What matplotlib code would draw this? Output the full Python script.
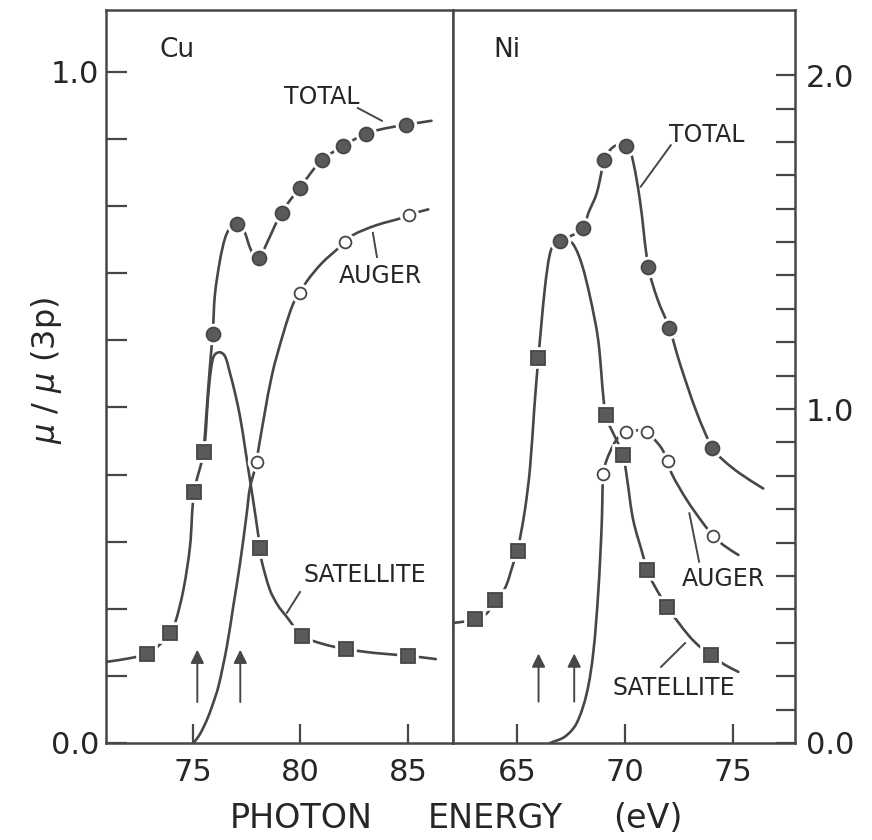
import numpy as np
import matplotlib
matplotlib.use("Agg")
import matplotlib.pyplot as plt
from matplotlib.ticker import FixedLocator
from matplotlib.path import Path
from matplotlib.patches import PathPatch

# ---------------- Cu (left panel, left axis: mu/mu(3p)) ----------------
cu_total_x = [75.92, 77.03, 78.08, 79.12, 79.97, 81.0, 82.0, 83.03, 84.92]
cu_total_y = [0.610, 0.773, 0.723, 0.790, 0.827, 0.869, 0.890, 0.908, 0.921]
cu_total_curve_x = [75.5, 75.7, 75.85, 75.92, 76.02, 76.26, 76.49, 76.7,
                    77.03, 77.25, 77.42, 77.65, 77.85, 78.08, 78.4, 78.8, 79.12,
                    79.55, 79.97, 80.5, 81.0, 81.5, 82.0, 82.5, 83.03, 84.0,
                    84.92, 85.5, 86.1]
cu_total_curve_y = [0.434, 0.525, 0.585, 0.610, 0.668, 0.720, 0.752, 0.766,
                    0.773, 0.771, 0.760, 0.738, 0.726, 0.723, 0.742, 0.770, 0.790,
                    0.810, 0.827, 0.850, 0.869, 0.880, 0.890, 0.899, 0.908, 0.916,
                    0.921, 0.924, 0.927]

cu_sat_x = [72.88, 73.93, 75.05, 75.5, 78.12, 80.07, 82.1, 85.0]
cu_sat_y = [0.133, 0.164, 0.374, 0.434, 0.290, 0.160, 0.140, 0.130]
cu_sat_curve_x = [71.0, 72.0, 72.88, 73.4, 73.93, 74.16, 74.55, 74.86, 75.05,
                  75.5, 75.7, 75.85, 76.0, 76.26, 76.49, 76.72, 76.95, 77.19,
                  77.42, 77.65, 77.9, 78.12, 78.19, 78.58, 78.95, 79.36, 80.07,
                  81.0, 82.1, 83.5, 85.0, 86.3]
cu_sat_curve_y = [0.121, 0.126, 0.133, 0.145, 0.164, 0.178, 0.228, 0.293, 0.374,
                  0.434, 0.515, 0.560, 0.578, 0.582, 0.576, 0.551, 0.522, 0.486,
                  0.440, 0.392, 0.340, 0.290, 0.272, 0.228, 0.205, 0.188, 0.160,
                  0.148, 0.140, 0.134, 0.130, 0.125]

cu_aug_x = [77.96, 80.0, 82.07, 85.05]
cu_aug_y = [0.418, 0.671, 0.746, 0.787]
cu_aug_curve_x = [75.02, 75.3, 75.64, 75.9, 76.18, 76.57, 76.87, 77.19, 77.5, 77.65,
                  77.96, 78.04, 78.66, 79.2, 79.67, 80.0, 80.3, 81.0, 81.76, 82.07,
                  82.46, 83.5, 84.8, 85.05, 85.95]
cu_aug_curve_y = [0.000, 0.012, 0.034, 0.056, 0.084, 0.143, 0.203, 0.268, 0.342, 0.380,
                  0.418, 0.437, 0.546, 0.610, 0.655, 0.671, 0.688, 0.715, 0.737, 0.746,
                  0.757, 0.771, 0.783, 0.787, 0.795]

cu_edges = [75.2, 77.2]          # 3p3/2 and 3p1/2 thresholds (arrows)

# ---------------- Ni (right panel, right axis) ----------------
ni_total_x = [67.0, 68.05, 69.05, 70.07, 71.08, 72.05, 74.05]
ni_total_y = [1.503, 1.541, 1.746, 1.788, 1.426, 1.243, 0.884]
ni_total_curve_x = [67.0, 68.05, 68.3, 68.69, 69.05, 69.3, 69.62, 70.07, 70.31,
                    70.69, 71.08, 71.5, 72.05, 72.55, 73.32, 74.06, 74.55, 75.32,
                    76.4]
ni_total_curve_y = [1.503, 1.541, 1.586, 1.646, 1.746, 1.775, 1.790, 1.788, 1.760,
                    1.626, 1.426, 1.330, 1.243, 1.135, 0.990, 0.882, 0.847, 0.807,
                    0.762]

ni_sat_x = [63.06, 63.98, 65.03, 65.99, 69.1, 69.92, 71.0, 71.96, 73.97]
ni_sat_y = [0.371, 0.428, 0.576, 1.152, 0.982, 0.862, 0.518, 0.406, 0.263]
ni_sat_curve_x = [62.1, 62.6, 63.06, 63.6, 63.98, 64.44, 64.83, 65.03, 65.14, 65.37,
                  65.6, 65.8, 65.99, 66.3, 66.53, 66.75, 67.0, 67.3, 67.61, 67.99,
                  68.38, 68.76, 69.1, 69.4, 69.7, 69.92, 70.1, 70.38, 70.85,
                  71.0, 71.39, 71.96, 72.39, 73.0, 73.47, 73.97, 74.6, 75.25]
ni_sat_curve_y = [0.360, 0.364, 0.371, 0.388, 0.428, 0.463, 0.537, 0.576, 0.613, 0.698,
                  0.820, 1.000, 1.152, 1.366, 1.466, 1.497, 1.503, 1.506, 1.493, 1.436,
                  1.337, 1.207, 0.982, 0.935, 0.895, 0.862, 0.790, 0.668, 0.558,
                  0.518, 0.468, 0.406, 0.368, 0.318, 0.288, 0.263, 0.235, 0.213]

ni_aug_x = [69.0, 70.07, 71.0, 71.98, 74.09]
ni_aug_y = [0.807, 0.932, 0.932, 0.844, 0.620]
ni_aug_curve_x = [66.53, 67.22, 67.76, 68.23, 68.53, 68.76, 68.92, 69.0, 69.15, 69.46,
                  69.75, 70.07, 70.5, 71.0, 71.39, 71.7, 71.98, 72.16, 72.86, 73.63,
                  74.09, 74.55, 75.25]
ni_aug_curve_y = [0.000, 0.019, 0.059, 0.149, 0.269, 0.448, 0.648, 0.807, 0.847, 0.892,
                  0.920, 0.932, 0.936, 0.932, 0.907, 0.882, 0.844, 0.807, 0.728, 0.657,
                  0.620, 0.593, 0.563]

ni_edges = [66.0, 67.65]

INK = "#474747"
FILL = "#5a5a5a"
TXT = "#262626"
plt.rcParams["font.family"] = ["DejaVu Sans"]

fig = plt.figure(figsize=(8.72, 8.4), dpi=100)
W, H = 872.0, 840.0
ax_cu = fig.add_axes([106 / W, 97 / H, 347 / W, 733 / H])
ax_ni = fig.add_axes([453 / W, 97 / H, 342 / W, 733 / H])

ax_cu.set_xlim(70.95, 87.1)
ax_cu.set_ylim(0, 1.092)
ax_ni.set_xlim(62.04, 77.87)
ax_ni.set_ylim(0, 2.195)
for ax in (ax_cu, ax_ni):
    ax.set_autoscale_on(False)


def curve(ax, x, y):
    """Smooth cubic curve through the traced points (tangents set in screen space)."""
    tr = ax.transData
    P = tr.transform(np.column_stack([x, y]))
    n = len(P)
    T = np.zeros_like(P)
    for i in range(n):
        d = P[min(i + 1, n - 1)] - P[max(i - 1, 0)]
        T[i] = d / np.hypot(*d)
    verts = [P[0]]
    codes = [Path.MOVETO]
    for i in range(n - 1):
        L = np.hypot(*(P[i + 1] - P[i])) / 3.0
        verts += [P[i] + T[i] * L, P[i + 1] - T[i + 1] * L, P[i + 1]]
        codes += [Path.CURVE4] * 3
    V = tr.inverted().transform(np.array(verts))
    ax.add_patch(PathPatch(Path(V, codes), fill=False, edgecolor=INK, lw=1.9,
                           capstyle="round", joinstyle="round", zorder=2))


def symbols(ax, x, y, marker, filled, size):
    # white rim leaves a small break in the curve around every symbol
    ax.plot(x, y, ls="none", marker=marker, ms=size, mfc="white",
            mec="white", mew=5.5, zorder=3)
    ax.plot(x, y, ls="none", marker=marker, ms=size,
            mfc=FILL if filled else "white", mec=INK, mew=1.3, zorder=4)


def leader(ax, x0, y0, x1, y1):
    ax.plot([x0, x1], [y0, y1], color=INK, lw=1.4, zorder=2)


def edge_arrows(ax, xs, y0, y1):
    for x in xs:
        ax.annotate("", xy=(x, y1), xytext=(x, y0),
                    arrowprops=dict(arrowstyle="-|>", color=INK, lw=1.4,
                                    mutation_scale=20, shrinkA=0, shrinkB=0))


lab = dict(fontsize=17, color=TXT, ha="center", va="center")

# ---- Cu panel ----
curve(ax_cu, cu_sat_curve_x, cu_sat_curve_y)
curve(ax_cu, cu_aug_curve_x, cu_aug_curve_y)
curve(ax_cu, cu_total_curve_x, cu_total_curve_y)
symbols(ax_cu, cu_sat_x, cu_sat_y, "s", True, 9.5)
symbols(ax_cu, cu_aug_x, cu_aug_y, "o", False, 8.5)
symbols(ax_cu, cu_total_x, cu_total_y, "o", True, 10)
edge_arrows(ax_cu, cu_edges, 0.061, 0.139)

leader(ax_cu, 82.67, 0.946, 83.79, 0.927)
leader(ax_cu, 83.37, 0.760, 83.56, 0.724)
leader(ax_cu, 79.98, 0.225, 79.37, 0.194)
ax_cu.text(80.98, 0.962, "TOTAL", **lab)
ax_cu.text(83.70, 0.696, "AUGER", **lab)
ax_cu.text(83.00, 0.250, "SATELLITE", **lab)
ax_cu.text(74.26, 1.033, "Cu", fontsize=19, color=TXT, ha="center", va="center")

ax_cu.set_xticks([75, 80, 85])
ax_cu.set_xticklabels(["75", "80", "85"])
ax_cu.set_yticks([0.0, 1.0])
ax_cu.set_yticklabels(["0.0", "1.0"])
ax_cu.yaxis.set_minor_locator(FixedLocator([i / 10 for i in range(1, 10)]))
ax_cu.tick_params(axis="y", which="both", direction="in", length=15, width=1.6,
                  color=INK, left=True, right=False, pad=5, labelsize=22,
                  labelcolor=TXT)
ax_cu.tick_params(axis="x", which="both", direction="in", length=14, width=1.6,
                  color=INK, top=False, pad=11, labelsize=22, labelcolor=TXT)

# ---- Ni panel ----
curve(ax_ni, ni_sat_curve_x, ni_sat_curve_y)
curve(ax_ni, ni_aug_curve_x, ni_aug_curve_y)
curve(ax_ni, ni_total_curve_x, ni_total_curve_y)
symbols(ax_ni, ni_sat_x, ni_sat_y, "s", True, 9.5)
symbols(ax_ni, ni_aug_x, ni_aug_y, "o", False, 8.5)
symbols(ax_ni, ni_total_x, ni_total_y, "o", True, 10)
edge_arrows(ax_ni, ni_edges, 0.124, 0.268)

leader(ax_ni, 72.12, 1.790, 70.73, 1.666)
leader(ax_ni, 72.98, 0.688, 73.43, 0.543)
leader(ax_ni, 71.67, 0.228, 72.78, 0.299)
ax_ni.text(73.80, 1.820, "TOTAL", **lab)
ax_ni.text(74.58, 0.491, "AUGER", **lab)
ax_ni.text(72.25, 0.166, "SATELLITE", **lab)
ax_ni.text(64.54, 2.075, "Ni", fontsize=19, color=TXT, ha="center", va="center")

ax_ni.set_xticks([65, 70, 75])
ax_ni.set_xticklabels(["65", "70", "75"])
ax_ni.yaxis.tick_right()
ax_ni.set_yticks([0.0, 1.0, 2.0])
ax_ni.set_yticklabels(["0.0", "1.0", "2.0"])
ax_ni.yaxis.set_minor_locator(FixedLocator([i / 10 for i in range(1, 20)]))
ax_ni.tick_params(axis="y", which="both", direction="in", length=14, width=1.6,
                  color=INK, left=False, right=True, pad=8, labelsize=22,
                  labelcolor=TXT)
ax_ni.tick_params(axis="x", which="both", direction="in", length=14, width=1.6,
                  color=INK, top=False, pad=11, labelsize=22, labelcolor=TXT)

for ax in (ax_cu, ax_ni):
    for sp in ax.spines.values():
        sp.set_color(INK)
        sp.set_linewidth(1.8)

# axis titles
for word, cx in (("PHOTON", 301), ("ENERGY", 495), ("(eV)", 648)):
    fig.text(cx / W, 1 - 818 / H, word, fontsize=24, color=TXT,
             ha="center", va="center")
fig.text(47 / W, 1 - 370 / H, r"$\mu$ / $\mu$ (3p)", fontsize=23, color=TXT,
         rotation=90, ha="center", va="center")

fig.savefig("out.png", dpi=100, facecolor="white")
